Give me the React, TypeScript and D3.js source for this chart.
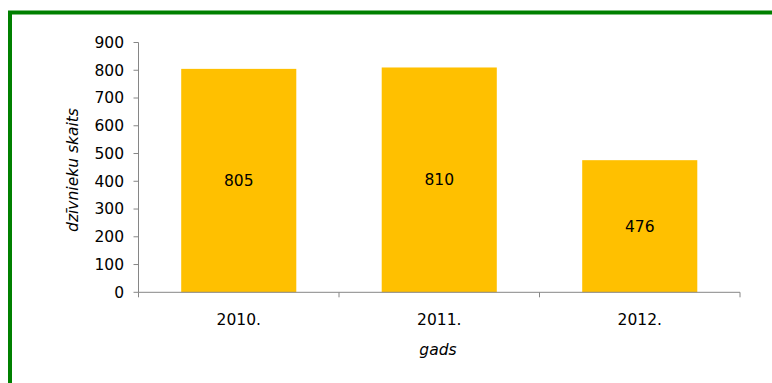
import React from "react";
import * as d3 from "d3";

const categories = ["2010.", "2011.", "2012."];
const values = [805, 810, 476];
const yTicks = [0, 100, 200, 300, 400, 500, 600, 700, 800, 900];
const yTitle = "dzīvnieku skaits";
const xTitle = "gads";

export default function App() {
  const W = 772, H = 383;
  const left = 138.5, right = 740, top = 42.5, bottom = 292.3;
  const x = d3.scaleBand().domain(categories).range([left, right]).paddingInner(0.426).paddingOuter(0.213);
  const y = d3.scaleLinear().domain([0, 900]).range([bottom, top]);
  const band = (right - left) / categories.length;
  const font = "'DejaVu Sans', Verdana, sans-serif";
  return (
    <svg width={W} height={H} style={{ position: "absolute", left: 0, top: 0 }} fontFamily={font}>
      <rect x={0} y={0} width={W} height={H} fill="#fff" />
      <rect x={10} y={12.5} width={W + 20} height={H + 20} fill="none" stroke="#008000" strokeWidth={4} />
      {categories.map((c, i) => (
        <g key={c}>
          <rect x={x(c)} y={y(values[i])} width={x.bandwidth()} height={bottom - y(values[i])} fill="#FFC000" />
          <text x={x(c)! + x.bandwidth() / 2} y={(y(values[i]) + bottom) / 2} dy="0.35em" textAnchor="middle" fontSize={15.5} fill="#000">{values[i]}</text>
          <text x={x(c)! + x.bandwidth() / 2} y={320} dy="0.35em" textAnchor="middle" fontSize={15.5} fill="#000">{c}</text>
        </g>
      ))}
      <line x1={left} x2={left} y1={top} y2={bottom} stroke="#868686" strokeWidth={1} />
      {yTicks.map(t => (
        <g key={t}>
          <line x1={left - 5} x2={left} y1={y(t)} y2={y(t)} stroke="#868686" />
          <text x={124} y={y(t)} dy="0.35em" textAnchor="end" fontSize={15.5} fill="#000">{t}</text>
        </g>
      ))}
      <line x1={left} x2={right} y1={bottom} y2={bottom} stroke="#868686" />
      {d3.range(categories.length + 1).map(i => (
        <line key={i} x1={left + i * band} x2={left + i * band} y1={bottom} y2={bottom + 5} stroke="#868686" />
      ))}
      <text transform={`translate(78,170) rotate(-90)`} textAnchor="middle" fontSize={15.5} fontStyle="italic" fill="#000">{yTitle}</text>
      <text x={438} y={350} dy="0.35em" textAnchor="middle" fontSize={15.5} fontStyle="italic" fill="#000">{xTitle}</text>
    </svg>
  );
}
